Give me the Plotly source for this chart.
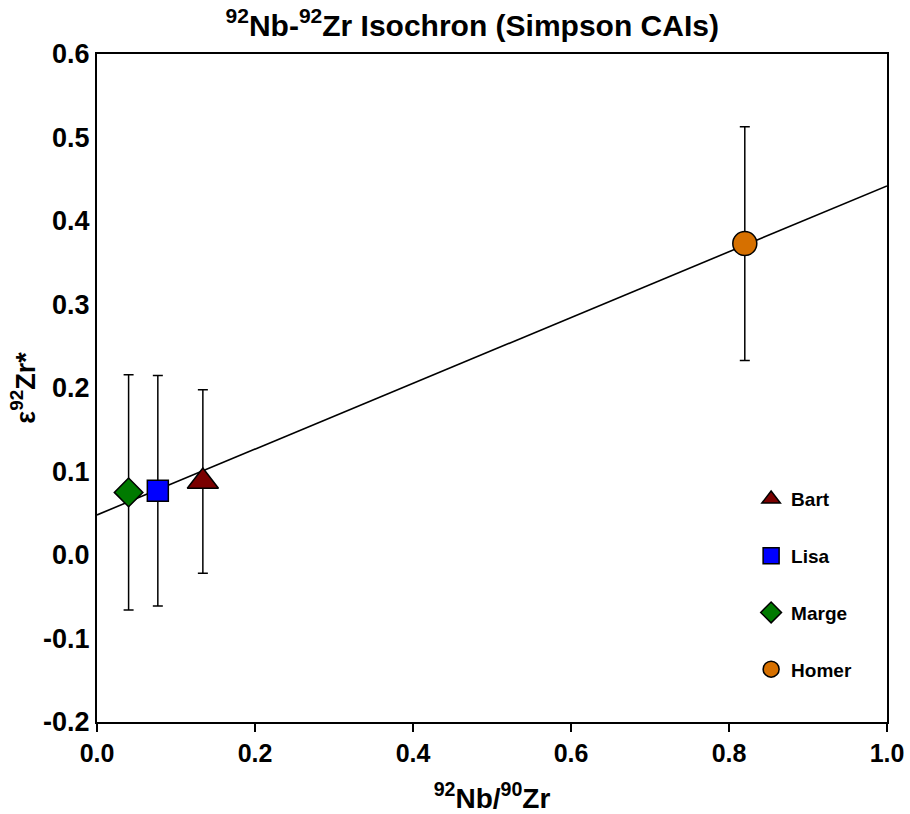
import plotly.graph_objects as go

# Data
names = ["Bart", "Lisa", "Marge", "Homer"]
nb_zr = [0.134, 0.077, 0.040, 0.820]
eps_zr = [0.088, 0.077, 0.075, 0.373]
eps_err = [0.110, 0.138, 0.141, 0.140]
symbols = ["triangle-up", "square", "diamond", "circle"]
colors = ["#7a0000", "#0000ff", "#007a00", "#d67000"]
sizes = [27, 21, 22, 24]

# Isochron fit
fit_intercept = 0.048
fit_slope = 0.394
fit_x = [0.0, 1.0]
fit_y = [fit_intercept + fit_slope * v for v in fit_x]

font_fam = "Liberation Sans, Arial, sans-serif"

fig = go.Figure()
fig.add_trace(go.Scatter(x=fit_x, y=fit_y, mode="lines",
                         line=dict(color="black", width=1.6),
                         showlegend=False, hoverinfo="skip"))

for i, n in enumerate(names):
    fig.add_trace(go.Scatter(
        x=[nb_zr[i]], y=[eps_zr[i]], mode="markers", name=n,
        legendgroup=n,
        marker=dict(symbol=symbols[i], color=colors[i], size=sizes[i],
                    line=dict(color="black", width=1.5)),
        error_y=dict(type="data", array=[eps_err[i]], visible=True,
                     color="black", thickness=1.5, width=5),
    ))

fig.update_layout(
    width=910, height=814,
    margin=dict(l=97, r=23, t=54, b=92),
    paper_bgcolor="white", plot_bgcolor="white",
    title=dict(text="<sup>92</sup>Nb-<sup>92</sup>Zr Isochron (Simpson CAIs)",
               x=0.475, xref="paper", xanchor="center",
               y=0.969, yref="container", yanchor="middle",
               font=dict(family=font_fam, size=30, color="black", weight="bold")),
    xaxis=dict(range=[0, 1.0], tickvals=[0, 0.2, 0.4, 0.6, 0.8, 1.0],
               ticktext=["0.0", "0.2", "0.4", "0.6", "0.8", "1.0"],
               automargin=False,
               showgrid=False, zeroline=False, showline=True, linecolor="black",
               linewidth=2, mirror=True, ticks="outside", ticklen=8,
               tickwidth=2, tickcolor="black",
               tickfont=dict(family=font_fam, size=25, color="black", weight="bold"),
               title=dict(text="<sup>92</sup>Nb/<sup>90</sup>Zr", standoff=24,
                          font=dict(family=font_fam, size=28, color="black", weight="bold"))),
    yaxis=dict(range=[-0.2, 0.6],
               tickvals=[-0.2, -0.1, 0.0, 0.1, 0.2, 0.3, 0.4, 0.5, 0.6],
               ticktext=["-0.2", "-0.1", "0.0", "0.1", "0.2", "0.3", "0.4", "0.5", "0.6"],
               automargin=False,
               showgrid=False, zeroline=False, showline=True, linecolor="black",
               linewidth=2, mirror=True, ticks="", ticklen=0,
               tickfont=dict(family=font_fam, size=27, color="black", weight="bold"),
               title=dict(text="ε<sup>92</sup>Zr*", standoff=0,
                          font=dict(family=font_fam, size=27, color="black", weight="bold"))),
    legend=dict(x=0.828, y=0.362, xanchor="left", yanchor="top",
                bgcolor="rgba(0,0,0,0)", tracegroupgap=29,
                font=dict(family=font_fam, size=19, color="black", weight="bold")),
)

fig.write_html("out.html")
